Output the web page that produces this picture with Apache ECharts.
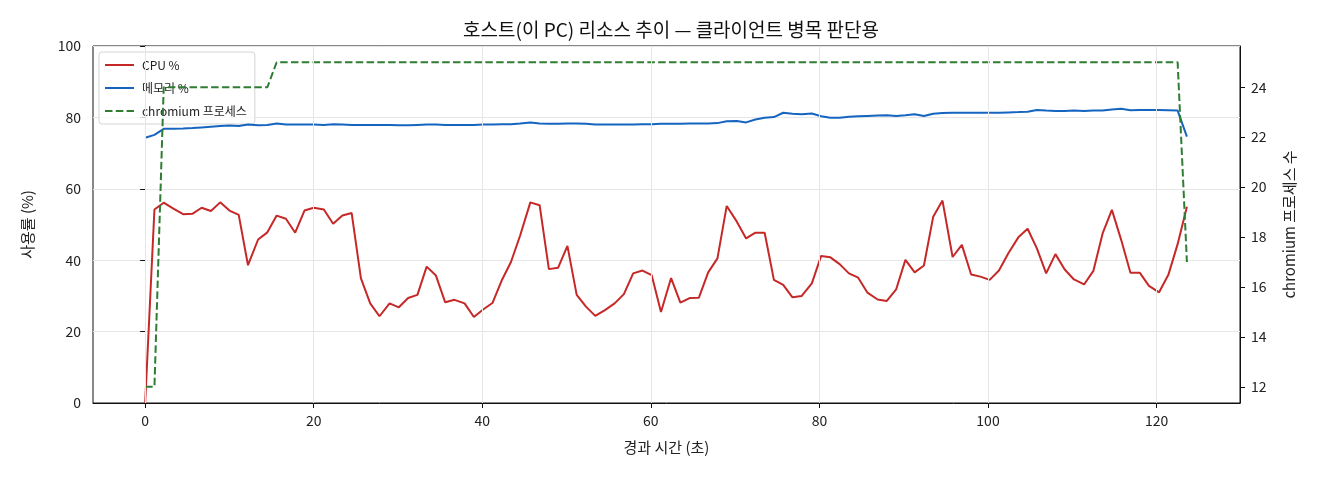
<!DOCTYPE html>
<html>
<head>
<meta charset="utf-8">
<script src="https://cdn.jsdelivr.net/npm/echarts@6/dist/echarts.min.js"></script>
<style>
  html, body { margin: 0; padding: 0; background: #fff; }
  #chart { width: 1320px; height: 480px; }
</style>
</head>
<body>
<div id="chart"></div>
<script>
// 경과 시간 (초)
var times = [
  0.0, 1.1, 2.2, 3.3, 4.5, 5.6, 6.7, 7.8, 8.9, 10.0,
  11.1, 12.2, 13.4, 14.5, 15.6, 16.7, 17.8, 18.9, 20.0, 21.2,
  22.3, 23.4, 24.5, 25.6, 26.7, 27.8, 29.0, 30.1, 31.2, 32.3,
  33.4, 34.5, 35.6, 36.7, 37.9, 39.0, 40.1, 41.2, 42.3, 43.4,
  44.5, 45.7, 46.8, 47.9, 49.0, 50.1, 51.2, 52.3, 53.4, 54.6,
  55.7, 56.8, 57.9, 59.0, 60.1, 61.2, 62.4, 63.5, 64.6, 65.7,
  66.8, 67.9, 69.0, 70.2, 71.3, 72.4, 73.5, 74.6, 75.7, 76.8,
  77.9, 79.1, 80.2, 81.3, 82.4, 83.5, 84.6, 85.7, 86.9, 88.0,
  89.1, 90.2, 91.3, 92.4, 93.5, 94.6, 95.8, 96.9, 98.0, 99.1,
  100.2, 101.3, 102.4, 103.6, 104.7, 105.8, 106.9, 108.0, 109.1, 110.2,
  111.4, 112.5, 113.6, 114.7, 115.8, 116.9, 118.0, 119.1, 120.3, 121.4,
  122.5, 123.6
];

// CPU %
var cpu = [
  0, 54.2, 56.1, 54.5, 52.9, 53.0, 54.7, 53.8, 56.2, 53.9,
  52.7, 38.6, 45.8, 47.8, 52.5, 51.6, 47.7, 53.9, 54.7, 54.2,
  50.2, 52.5, 53.2, 34.9, 27.9, 24.3, 27.9, 26.8, 29.4, 30.3,
  38.2, 35.7, 28.2, 28.9, 27.9, 24.1, 26.2, 28.0, 34.3, 39.5,
  47.0, 56.2, 55.4, 37.5, 37.9, 44.0, 30.3, 27.0, 24.4, 26.1,
  27.9, 30.5, 36.3, 37.1, 35.8, 25.5, 35.0, 28.1, 29.4, 29.5,
  36.6, 40.5, 55.2, 50.8, 46.1, 47.7, 47.7, 34.5, 33.1, 29.6,
  30.0, 33.5, 41.2, 40.8, 38.9, 36.3, 35.1, 30.9, 29.0, 28.6,
  31.8, 40.1, 36.6, 38.5, 52.2, 56.7, 40.9, 44.3, 36.0, 35.4,
  34.5, 37.1, 41.9, 46.4, 48.8, 43.3, 36.3, 41.7, 37.4, 34.6,
  33.2, 37.0, 47.5, 54.1, 45.7, 36.5, 36.5, 32.8, 31.0, 35.9,
  44.5, 55.0
];

// 메모리 %
var mem = [
  74.3, 75.1, 76.8, 76.8, 76.9, 77.0, 77.2, 77.4, 77.6, 77.7,
  77.6, 78.0, 77.8, 77.9, 78.3, 78.0, 78.0, 78.0, 78.0, 77.9,
  78.1, 78.0, 77.9, 77.9, 77.9, 77.9, 77.9, 77.8, 77.8, 77.9,
  78.0, 78.0, 77.9, 77.9, 77.9, 77.9, 78.0, 78.0, 78.1, 78.1,
  78.3, 78.6, 78.3, 78.2, 78.2, 78.3, 78.3, 78.2, 78.0, 78.0,
  78.0, 78.0, 78.0, 78.1, 78.1, 78.2, 78.2, 78.2, 78.3, 78.3,
  78.3, 78.4, 78.9, 79.0, 78.6, 79.4, 79.9, 80.1, 81.3, 81.0,
  80.9, 81.1, 80.3, 79.9, 79.9, 80.2, 80.3, 80.4, 80.5, 80.6,
  80.4, 80.6, 80.9, 80.4, 81.0, 81.2, 81.3, 81.3, 81.3, 81.3,
  81.3, 81.3, 81.4, 81.5, 81.6, 82.1, 81.9, 81.8, 81.8, 81.9,
  81.8, 81.9, 81.9, 82.2, 82.4, 82.0, 82.1, 82.1, 82.1, 82.0,
  81.9, 74.6
];

// chromium 프로세스 수
var procs = [
  12, 12, 24, 24, 24, 24, 24, 24, 24, 24,
  24, 24, 24, 24, 25, 25, 25, 25, 25, 25,
  25, 25, 25, 25, 25, 25, 25, 25, 25, 25,
  25, 25, 25, 25, 25, 25, 25, 25, 25, 25,
  25, 25, 25, 25, 25, 25, 25, 25, 25, 25,
  25, 25, 25, 25, 25, 25, 25, 25, 25, 25,
  25, 25, 25, 25, 25, 25, 25, 25, 25, 25,
  25, 25, 25, 25, 25, 25, 25, 25, 25, 25,
  25, 25, 25, 25, 25, 25, 25, 25, 25, 25,
  25, 25, 25, 25, 25, 25, 25, 25, 25, 25,
  25, 25, 25, 25, 25, 25, 25, 25, 25, 25,
  25, 17
];

var xTicks = [0, 20, 40, 60, 80, 100, 120];
var rightTicks = [12, 14, 16, 18, 20, 22, 24];

function pairs(ys) {
  return ys.map(function (v, i) { return [times[i], v]; });
}

var FONT = "'Noto Sans CJK KR', 'DejaVu Sans', sans-serif";
var chart = echarts.init(document.getElementById('chart'));

var option = {
  animation: false,
  textStyle: { fontFamily: FONT },
  title: {
    text: '호스트(이 PC) 리소스 추이 — 클라이언트 병목 판단용',
    left: 666,
    top: 15,
    textAlign: 'center',
    textStyle: { fontSize: 19, fontWeight: 'normal', color: '#111', fontFamily: FONT }
  },
  legend: {
    orient: 'vertical',
    left: 99,
    top: 52,
    z: 1,
    itemWidth: 29,
    itemHeight: 10,
    itemGap: 11,
    padding: [7, 8, 7, 5],
    borderColor: '#d4d4d4',
    borderWidth: 1,
    borderRadius: 3,
    backgroundColor: 'rgba(255,255,255,0.8)',
    itemStyle: { opacity: 0 },
    textStyle: { fontSize: 12, color: '#222', fontFamily: FONT, padding: [0, 0, 0, 3] },
    data: ['CPU %', '메모리 %', 'chromium 프로세스']
  },
  grid: {
    left: 93,
    right: 80,
    top: 46,
    bottom: 77,
    show: true,
    borderColor: '#111',
    borderWidth: 1
  },
  xAxis: {
    type: 'value',
    min: -6.19,
    max: 129.9,
    name: '경과 시간 (초)',
    nameLocation: 'middle',
    nameGap: 37,
    nameTextStyle: { fontSize: 15, color: '#222' },
    axisLine: { show: true, onZero: false, lineStyle: { color: '#111' } },
    axisTick: { show: true, customValues: xTicks, length: 5, lineStyle: { color: '#111' } },
    axisLabel: { customValues: xTicks, fontSize: 14, color: '#222', margin: 11 },
    splitLine: { show: false }
  },
  yAxis: [{
    type: 'value',
    min: 0,
    max: 100,
    interval: 20,
    name: '사용률 (%)',
    nameLocation: 'middle',
    nameRotate: 90,
    nameGap: 58,
    nameTextStyle: { fontSize: 15, color: '#222' },
    axisLine: { show: true, lineStyle: { color: '#111' } },
    axisTick: { show: true, length: 5, lineStyle: { color: '#111' } },
    axisLabel: { fontSize: 14, color: '#222', margin: 12 },
    splitLine: { show: true, lineStyle: { color: '#e6e6e6', width: 1 } }
  }, {
    type: 'value',
    position: 'right',
    min: 11.35,
    max: 25.65,
    name: 'chromium 프로세스 수',
    nameLocation: 'middle',
    nameRotate: 90,
    nameGap: 42,
    nameTextStyle: { fontSize: 15, color: '#222' },
    axisLine: { show: true, lineStyle: { color: '#111' } },
    axisTick: { show: true, customValues: rightTicks, length: 5, lineStyle: { color: '#111' } },
    axisLabel: { customValues: rightTicks, fontSize: 14, color: '#222', margin: 11 },
    splitLine: { show: false }
  }],
  series: [{
    // 세로 그리드선 (x 눈금 위치)
    name: 'grid',
    type: 'line',
    data: [],
    silent: true,
    z: 0,
    markLine: {
      silent: true,
      symbol: 'none',
      label: { show: false },
      lineStyle: { color: '#e6e6e6', width: 1, type: 'solid' },
      data: xTicks.map(function (v) { return { xAxis: v }; })
    }
  }, {
    name: 'CPU %',
    type: 'line',
    yAxisIndex: 0,
    data: pairs(cpu),
    showSymbol: false,
    symbol: 'none',
    lineStyle: { color: '#c62828', width: 2 },
    itemStyle: { color: '#c62828' },
    z: 3
  }, {
    name: '메모리 %',
    type: 'line',
    yAxisIndex: 0,
    data: pairs(mem),
    showSymbol: false,
    symbol: 'none',
    lineStyle: { color: '#1565c0', width: 2 },
    itemStyle: { color: '#1565c0' },
    z: 3
  }, {
    name: 'chromium 프로세스',
    type: 'line',
    yAxisIndex: 1,
    data: pairs(procs),
    showSymbol: false,
    symbol: 'none',
    lineStyle: { color: '#2e7d32', width: 2, type: [7.5, 3.3] },
    itemStyle: { color: '#2e7d32' },
    z: 3
  }]
};

chart.setOption(option);
</script>
</body>
</html>
